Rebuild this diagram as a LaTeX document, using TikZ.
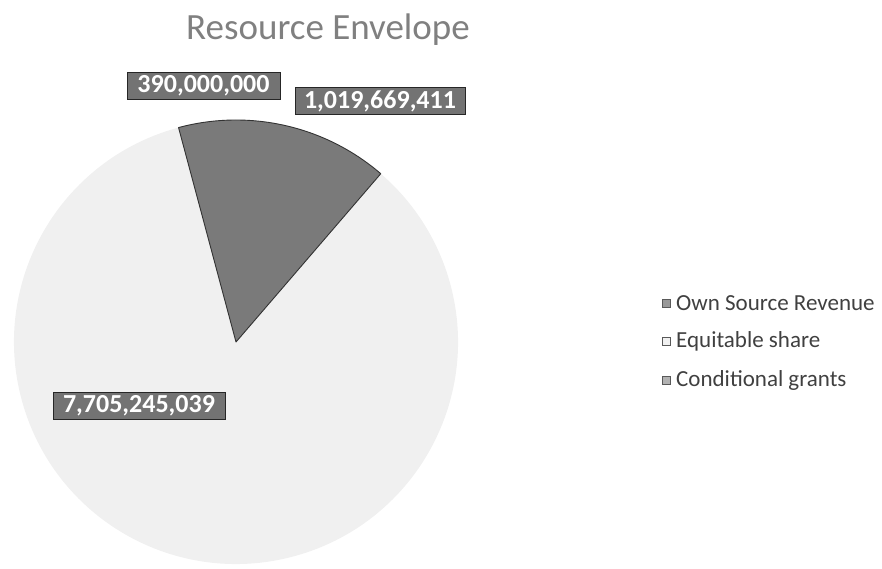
\documentclass[tikz,border=0pt]{standalone}
\usepackage{fontspec}
\setmainfont{Carlito}
\begin{document}
\begin{tikzpicture}[x=1pt,y=1pt,
  valbox/.style={fill=black!55, draw=black!85, line width=0.9pt, text=white,
    font=\fontsize{26}{28}\selectfont\bfseries, inner xsep=6pt, inner ysep=1pt,
    minimum height=27pt},
  legtext/.style={anchor=west, text=black!75, font=\fontsize{23}{25}\selectfont, inner sep=0pt},
  legmark/.style={draw=black!65, line width=0.6pt, minimum size=8pt, inner sep=0pt},
  darkslice/.style={fill=black!52},
  lightslice/.style={fill=black!6}]
\useasboundingbox (0,0) rectangle (882,568);
\def\rad{222}
\coordinate (c) at (236,226);
% Equitable share (light, rest of the pie)
\fill[lightslice] (c) -- ++(105:\rad) arc[start angle=105, end angle=409.3, radius=\rad] -- cycle;
% Own Source Revenue and Conditional grants (same dark shade)
\filldraw[darkslice, draw=black!80, line width=0.9pt, line join=round] (c) -- ++(49.3:\rad) arc[start angle=49.3, end angle=105, radius=\rad] -- cycle;
% title
\node[text=black!50, font=\fontsize{37}{40}\selectfont] (title) at (328,538) {Resource Envelope};
% value labels
\node[valbox, minimum width=153pt] (vosr) at (203.5,482) {390,000,000};
\node[valbox, minimum width=170pt] (vcg) at (380,467) {1,019,669,411};
\node[valbox, minimum width=172pt] (ves) at (139,162) {7,705,245,039};
% legend
\node[legmark, fill=black!40] (m1) at (666,265) {};
\node[legtext] (l1) at (676,265) {Own Source Revenue};
\node[legmark, fill=black!6] (m2) at (666,227) {};
\node[legtext] (l2) at (676,227) {Equitable share};
\node[legmark, fill=black!30] (m3) at (666,188) {};
\node[legtext] (l3) at (676,188) {Conditional grants};
\end{tikzpicture}
\end{document}
